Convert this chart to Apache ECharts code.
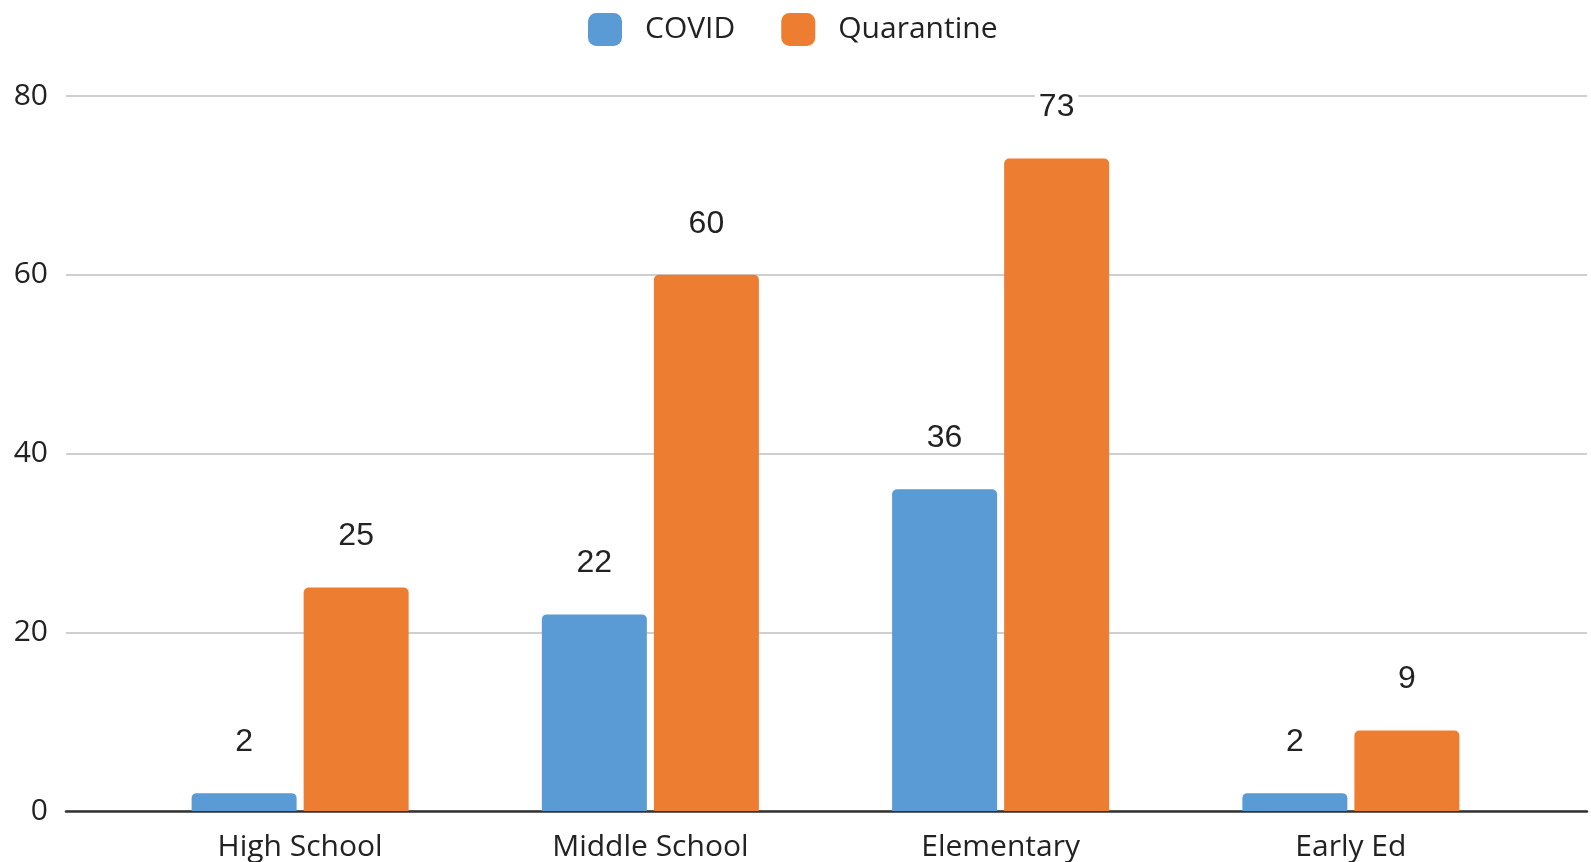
<!DOCTYPE html>
<html>
<head>
<meta charset="utf-8">
<script src="https://cdn.jsdelivr.net/npm/echarts@6/dist/echarts.min.js"></script>
<style>html,body{margin:0;padding:0;background:#fff;width:100%;height:100%;overflow:hidden}#c{width:100%;height:100%}</style>
</head>
<body>
<div id="c"></div>
<script>
const categories = ['High School', 'Middle School', 'Elementary', 'Early Ed'];
const covid = [2, 22, 36, 2];
const quarantine = [25, 60, 73, 9];
const yTicks = { min: 0, max: 80, interval: 20 };

const chart = echarts.init(document.getElementById('c'));
const labelFont = { fontFamily: 'Open Sans', fontSize: 30, color: '#222' };
const dataLabel = { show: true, position: 'top', distance: 38, fontFamily: 'Liberation Sans', fontSize: 32, color: '#222',
  lineHeight: 26, backgroundColor: '#fff', padding: [0, 4] };
chart.setOption({
  animation: false,
  legend: {
    top: 8, left: 583,
    itemWidth: 34, itemHeight: 33, itemGap: 46,
    icon: 'roundRect',
    textStyle: { fontFamily: 'Open Sans', fontSize: 30, color: '#222', padding: [0, 0, 0, 18] },
    data: ['COVID', 'Quarantine']
  },
  grid: [
    { left: 66, right: 4, top: 96, bottom: 51 },
    { left: 125, right: 65, top: 96, bottom: 51 }
  ],
  xAxis: [
    { type: 'category', gridIndex: 0, data: [''], axisLine: { lineStyle: { color: '#333', width: 2.5 } }, axisTick: { show: false }, axisLabel: { show: false } },
    { type: 'category', gridIndex: 1, data: categories, axisLine: { show: false }, axisTick: { show: false },
      axisLabel: Object.assign({ margin: 21 }, labelFont) }
  ],
  yAxis: [
    { type: 'value', gridIndex: 0, min: yTicks.min, max: yTicks.max, interval: yTicks.interval,
      axisLine: { show: false }, axisTick: { show: false },
      axisLabel: Object.assign({ margin: 18 }, labelFont),
      splitLine: { lineStyle: { color: '#cfcfcf', width: 2 } } },
    { type: 'value', gridIndex: 1, min: yTicks.min, max: yTicks.max, interval: yTicks.interval,
      show: false, splitLine: { show: false } }
  ],
  series: [
    { name: 'COVID', type: 'bar', xAxisIndex: 1, yAxisIndex: 1, data: covid, barWidth: 105, barGap: '6.7%',
      itemStyle: { color: '#5B9BD5', borderRadius: [5, 5, 0, 0] }, label: dataLabel },
    { name: 'Quarantine', type: 'bar', xAxisIndex: 1, yAxisIndex: 1, data: quarantine, barWidth: 105, barGap: '6.7%',
      itemStyle: { color: '#ED7D31', borderRadius: [5, 5, 0, 0] }, label: dataLabel }
  ]
});
</script>
</body>
</html>
